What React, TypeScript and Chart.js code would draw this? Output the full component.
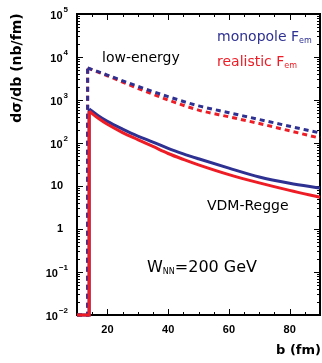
import React, { useEffect, useRef } from 'react';
import { Chart, registerables } from 'chart.js';

Chart.register(...registerables);

// impact parameter b (fm) — VDM-Regge (solid) curves
const bSolid = [14, 17, 20, 25, 30, 35, 40, 45, 50, 60, 70, 80, 90];
const monoSolid = [620, 430, 318, 211, 145, 105, 75, 56, 43, 26, 16.2, 11.6, 9];
const realSolid = [550, 375, 272, 175, 120, 83, 57, 41.5, 31, 18.4, 11.8, 7.9, 5.5];
// threshold steps of the solid curves
const bSolidStep = [10, 14, 14];
const monoSolidStep = [0.01, 0.01, 620];
const realSolidStep = [0.01, 0.01, 550];

// low-energy (dashed) curves
const bDashed = [13.5, 20, 30, 40, 50, 60, 70, 80, 90];
const monoDashed = [5600, 3800, 2080, 1200, 730, 507, 352, 245, 171];
const realDashed = [5500, 3660, 1870, 1000, 583, 407, 284, 192, 130];
const bDashedStep = [10, 13.5, 13.5];
const monoDashedStep = [0.01, 0.01, 5600];
const realDashedStep = [0.01, 0.01, 5500];

const xMajor = [20, 40, 60, 80];
const xTickLabels = ['20', '40', '60', '80'];
const xMinor = [10, 15, 25, 30, 35, 45, 50, 55, 65, 70, 75, 85, 90];
const yMajor = [0.01, 0.1, 1, 10, 100, 1000, 10000, 100000];
const yTickBase = ['10', '10', '1', '10', '10', '10', '10', '10'];
const yTickExp = ['−2', '−1', '', '', '2', '3', '4', '5'];

const BLUE = '#2e3192';
const RED = '#ee1c25';

type Part = { t: string; size: number; dy?: number; bold?: boolean };

function drawRich(ctx: CanvasRenderingContext2D, parts: Part[], x: number, y: number, color: string, family: string) {
  ctx.fillStyle = color;
  ctx.textAlign = 'left';
  ctx.textBaseline = 'middle';
  let cx = x;
  for (const p of parts) {
    ctx.font = `${p.bold ? 'bold ' : ''}${p.size}px ${family}`;
    ctx.fillText(p.t, cx, y + (p.dy || 0));
    cx += ctx.measureText(p.t).width;
  }
}

const framePlugin = {
  id: 'framePlugin',
  beforeDatasetsDraw(chart: any) {
    const { ctx, chartArea: a, scales } = chart;
    const xs = scales.x;
    const ys = scales.y;
    ctx.save();
    ctx.strokeStyle = '#000';
    ctx.lineWidth = 1;
    ctx.beginPath();
    const xt = (v: number, len: number) => {
      const px = Math.round(xs.getPixelForValue(v)) + 0.5;
      ctx.moveTo(px, a.bottom);
      ctx.lineTo(px, a.bottom - len);
      ctx.moveTo(px, a.top);
      ctx.lineTo(px, a.top + len);
    };
    xMajor.forEach((v) => xt(v, 6));
    xMinor.forEach((v) => xt(v, 3));
    const yt = (v: number, len: number) => {
      const py = Math.round(ys.getPixelForValue(v)) + 0.5;
      ctx.moveTo(a.left, py);
      ctx.lineTo(a.left + len, py);
      ctx.moveTo(a.right, py);
      ctx.lineTo(a.right - len, py);
    };
    yMajor.forEach((v, i) => {
      yt(v, 6);
      if (i < yMajor.length - 1) {
        for (let m = 2; m <= 9; m++) yt(v * m, 3);
      }
    });
    ctx.stroke();
    ctx.lineWidth = 2;
    ctx.strokeRect(a.left, a.top, a.right - a.left, a.bottom - a.top);
    ctx.restore();
  },
  afterDraw(chart: any) {
    const { ctx, scales } = chart;
    const xs = scales.x;
    const ys = scales.y;
    ctx.save();
    ctx.fillStyle = '#000';
    ctx.font = 'bold 11px "Liberation Sans"';
    ctx.textAlign = 'center';
    ctx.textBaseline = 'middle';
    xMajor.forEach((v, i) => {
      ctx.fillText(xTickLabels[i], xs.getPixelForValue(v), 330);
    });
    yMajor.forEach((v, i) => {
      const yc = ys.getPixelForValue(v);
      const base = yTickBase[i];
      const exp = yTickExp[i];
      ctx.font = 'bold 11px "Liberation Sans"';
      const bw = ctx.measureText(base).width;
      ctx.font = 'bold 8px "Liberation Sans"';
      const ew = exp ? ctx.measureText(exp).width + 1 : 0;
      const xr = exp ? 68 : 63;
      const x0 = xr - bw - ew;
      ctx.textAlign = 'left';
      ctx.font = 'bold 11px "Liberation Sans"';
      ctx.fillText(base, x0, yc + (exp ? 2 : 0));
      if (exp) {
        ctx.font = 'bold 8px "Liberation Sans"';
        ctx.fillText(exp, x0 + bw + 1, yc - 4);
      }
    });
    ctx.save();
    ctx.translate(17, 68);
    ctx.rotate(-Math.PI / 2);
    ctx.font = 'bold 14px "DejaVu Sans"';
    ctx.textAlign = 'center';
    ctx.textBaseline = 'middle';
    ctx.fillStyle = '#000';
    ctx.fillText('dσ/db (nb/fm)', 0, 0);
    ctx.restore();
    ctx.font = 'bold 13px "DejaVu Sans"';
    ctx.textAlign = 'right';
    ctx.textBaseline = 'middle';
    ctx.fillStyle = '#000';
    ctx.fillText('b (fm)', 321, 351);
    const fam = '"DejaVu Sans"';
    drawRich(ctx, [{ t: 'low-energy', size: 14 }], 102, 58, '#000', fam);
    drawRich(ctx, [{ t: 'monopole F', size: 14 }, { t: 'em', size: 8, dy: 4 }], 217, 37, BLUE, fam);
    drawRich(ctx, [{ t: 'realistic F', size: 14 }, { t: 'em', size: 8, dy: 4 }], 217, 62, RED, fam);
    drawRich(ctx, [{ t: 'VDM-Regge', size: 14 }], 207, 206, '#000', fam);
    drawRich(
      ctx,
      [{ t: 'W', size: 16 }, { t: 'NN', size: 8, dy: 4 }, { t: '=200 GeV', size: 16 }],
      147,
      268,
      '#000',
      fam
    );
    ctx.restore();
  },
};

const toPts = (xs: number[], ys: number[]) => xs.map((x, i) => ({ x, y: ys[i] }));

function ds(label: string, xs: number[], ys: number[], color: string, dashed: boolean, order: number, smooth: boolean) {
  return {
    label,
    data: toPts(xs, ys),
    borderColor: color,
    borderWidth: 3,
    borderDash: dashed ? [5, 4] : [],
    pointRadius: 0,
    tension: smooth ? 0.4 : 0,
    cubicInterpolationMode: smooth ? 'monotone' : 'default',
    fill: false,
    order,
    clip: 4,
  };
}

export default function App() {
  const ref = useRef<HTMLCanvasElement | null>(null);
  useEffect(() => {
    if (!ref.current) return;
    const chart = new Chart(ref.current, {
      type: 'line',
      data: {
        datasets: [
          ds('realistic VDM-Regge', bSolid, realSolid, RED, false, 0, true),
          ds('realistic VDM-Regge step', bSolidStep, realSolidStep, RED, false, 1, false),
          ds('monopole VDM-Regge', bSolid, monoSolid, BLUE, false, 2, true),
          ds('monopole VDM-Regge step', bSolidStep, monoSolidStep, BLUE, false, 3, false),
          ds('monopole low-energy', bDashed, monoDashed, BLUE, true, 4, true),
          ds('monopole low-energy step', bDashedStep, monoDashedStep, BLUE, true, 5, false),
          ds('realistic low-energy', bDashed, realDashed, RED, true, 6, true),
          ds('realistic low-energy step', bDashedStep, realDashedStep, RED, true, 7, false),
        ] as any,
      },
      options: {
        responsive: false,
        maintainAspectRatio: false,
        animation: false,
        layout: { padding: { top: 14, right: 2, left: 0, bottom: 0 } },
        plugins: { legend: { display: false }, tooltip: { enabled: false } },
        scales: {
          x: {
            type: 'linear',
            min: 10,
            max: 90,
            grid: { display: false },
            border: { display: false },
            ticks: { display: false },
            afterFit: (s: any) => {
              s.height = 48;
            },
          },
          y: {
            type: 'logarithmic',
            min: 0.01,
            max: 100000,
            grid: { display: false },
            border: { display: false },
            ticks: { display: false },
            afterFit: (s: any) => {
              s.width = 77;
            },
          },
        },
      } as any,
      plugins: [framePlugin],
    });
    return () => chart.destroy();
  }, []);
  return (
    <div style={{ position: 'absolute', left: 0, top: 0, width: 322, height: 363, background: '#fff' }}>
      <canvas ref={ref} width={322} height={363} style={{ width: 322, height: 363 }} />
    </div>
  );
}
